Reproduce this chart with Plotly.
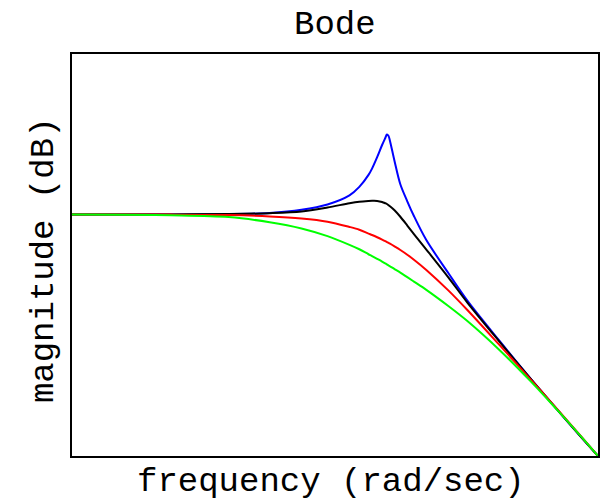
import plotly.graph_objects as go

# Frequency grid (rad/sec) and magnitude responses (dB) for four damping cases
frequency = [0.1, 0.2, 0.3, 0.4, 0.5, 0.6, 0.7, 0.75, 0.8, 0.82, 0.85, 0.88, 0.9, 0.91, 0.92, 0.93,
             0.96, 1.0, 1.05, 1.1, 1.2, 1.4, 1.6, 2.0, 2.5, 3.0, 3.5, 4.0]

mag_blue = [0.0, 0.02, 0.05, 0.17, 0.51, 1.08, 2.05, 2.95, 4.23, 4.90, 6.12, 7.41, 8.16, 8.52, 8.40, 7.84,
            5.71, 3.23, 1.42, -0.15, -2.71, -6.22, -9.16, -13.40, -17.51, -20.73, -23.42, -25.70]

mag_black = [0.0, 0.02, 0.06, 0.15, 0.33, 0.76, 1.21, 1.37, 1.45, 1.47, 1.46, 1.35, 1.21, 1.13, 1.01, 0.89,
             0.46, -0.23, -1.16, -2.07, -3.72, -6.68, -9.36, -13.49, -17.53, -20.73, -23.43, -25.70]

mag_red = [0.0, 0.0, -0.05, -0.19, -0.41, -0.75, -1.31, -1.61, -2.02, -2.17, -2.41, -2.66, -2.83, -2.92, -3.01, -3.10,
           -3.39, -3.77, -4.27, -4.80, -5.89, -8.07, -10.16, -13.85, -17.59, -20.69, -23.34, -25.70]

mag_green = [0.0, -0.07, -0.26, -0.81, -1.47, -2.29, -3.22, -3.69, -4.22, -4.41, -4.71, -5.00, -5.20, -5.30, -5.41, -5.50,
             -5.80, -6.17, -6.66, -7.13, -8.01, -9.73, -11.33, -14.38, -17.78, -20.77, -23.37, -25.70]

series = [
    (mag_blue, "#0000ff"),
    (mag_black, "#000000"),
    (mag_red, "#ff0000"),
    (mag_green, "#00ff00"),
]

font_family = "Courier New, Liberation Mono, monospace"

fig = go.Figure()
for values, color in series:
    fig.add_trace(go.Scatter(
        x=frequency, y=values, mode="lines",
        line=dict(color=color, width=2, shape="spline", smoothing=0.9),
        showlegend=False, hoverinfo="skip",
    ))

axis_common = dict(
    showgrid=False, zeroline=False, showticklabels=False, ticks="",
    showline=True, linecolor="black", linewidth=2, mirror=True,
)

fig.update_layout(
    width=613, height=501,
    margin=dict(l=72, r=15, t=54, b=45),
    paper_bgcolor="white", plot_bgcolor="white",
    xaxis=dict(type="log", range=[-1, 0.60206], **axis_common),
    yaxis=dict(range=[-25.7, 17.1], **axis_common),
    annotations=[
        dict(text="Bode", xref="paper", yref="paper", x=0.5, y=1.071,
             xanchor="center", yanchor="middle", showarrow=False,
             font=dict(family=font_family, size=34, color="black")),
        dict(text="frequency (rad/sec)", xref="paper", yref="paper", x=0.4924, y=-0.064,
             xanchor="center", yanchor="middle", showarrow=False,
             font=dict(family=font_family, size=34, color="black")),
        dict(text="magnitude (dB)", xref="paper", yref="paper", x=-0.053, y=0.4876,
             xanchor="center", yanchor="middle", showarrow=False, textangle=-90,
             font=dict(family=font_family, size=34, color="black")),
    ],
)

fig.write_html("out.html")
